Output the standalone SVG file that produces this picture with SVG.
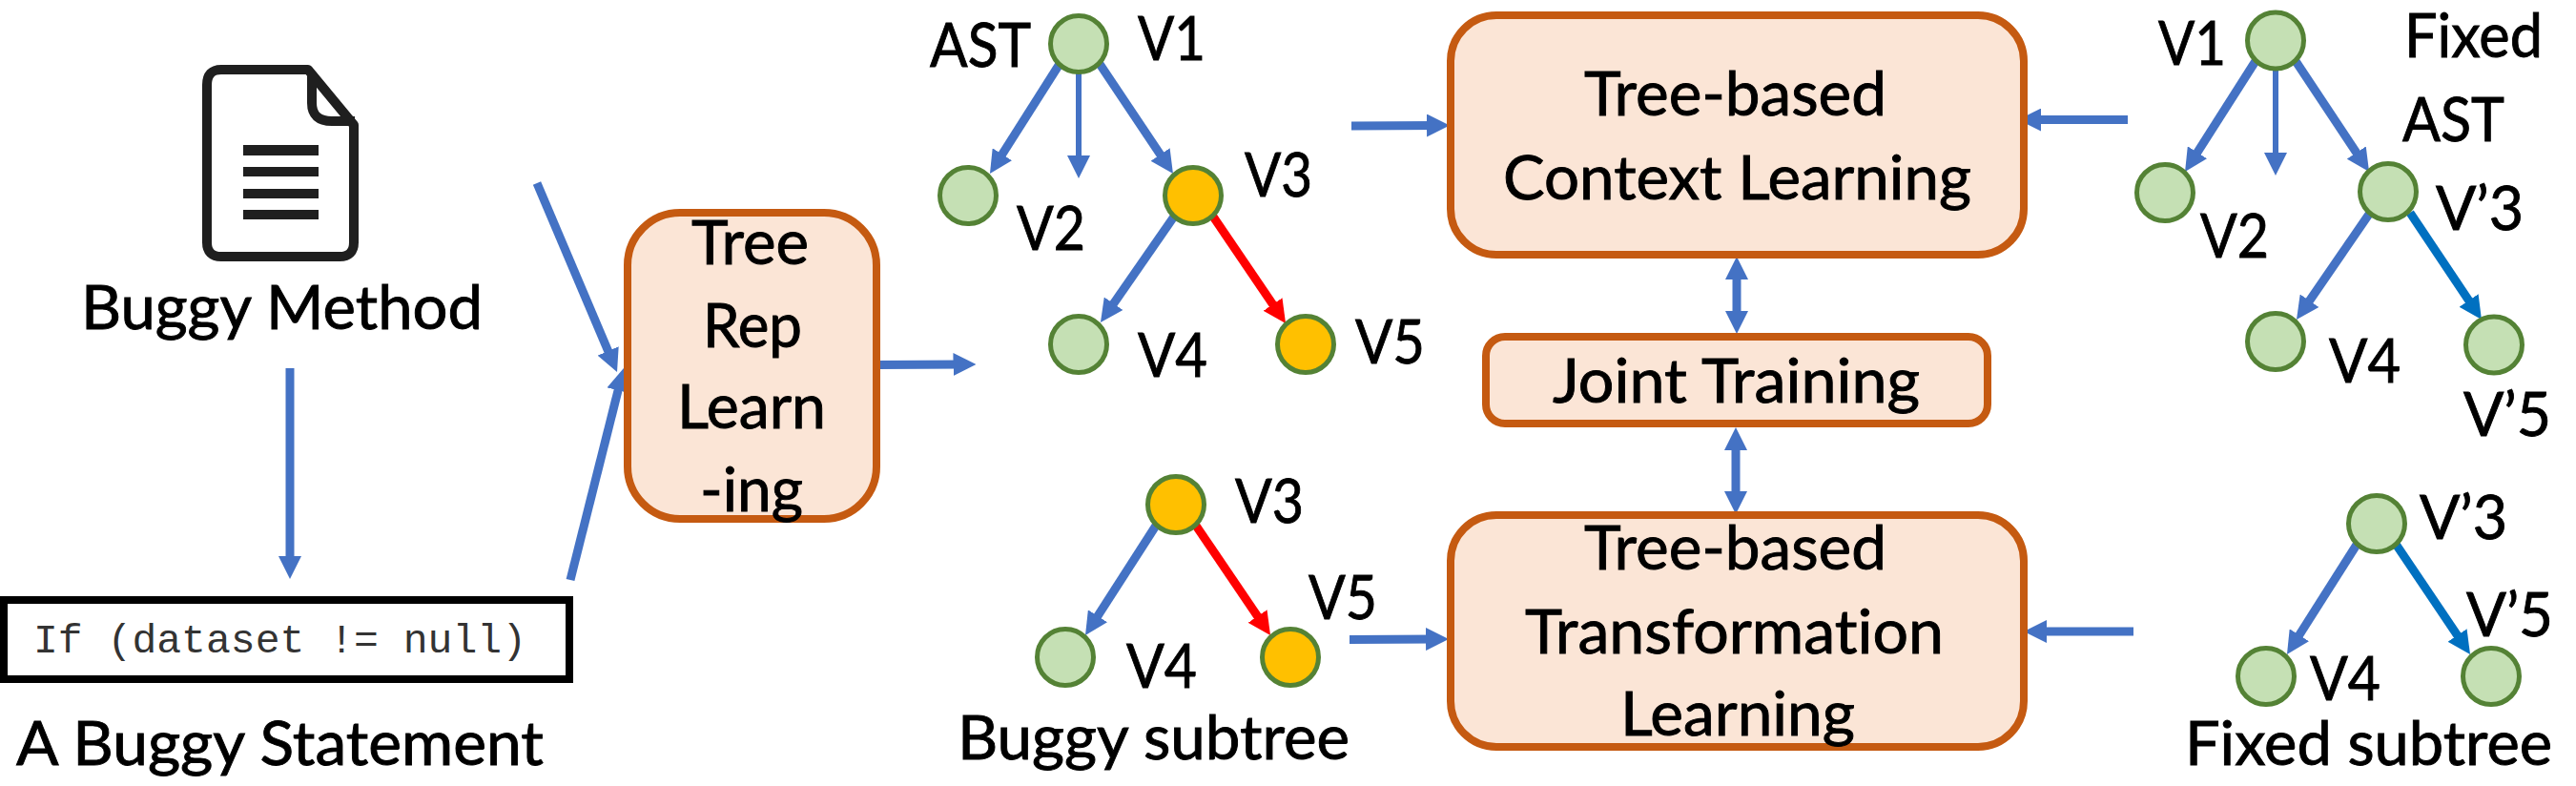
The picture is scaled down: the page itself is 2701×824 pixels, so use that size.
<svg xmlns="http://www.w3.org/2000/svg" width="2701" height="824" viewBox="0 0 2701 824">
<style>
.t{font-family:"Lato","Open Sans","Liberation Sans",sans-serif;font-size:64px;fill:#000;stroke:#000;stroke-width:.9;font-variant-ligatures:none}
.m{font-family:"Liberation Mono",monospace;font-size:43px;fill:#333}
.box{fill:#FBE5D6;stroke:#C55A11;stroke-width:8}
.g{fill:#C5E0B4;stroke:#548235;stroke-width:5}
.o{fill:#FFC000;stroke:#548235;stroke-width:5}
.a{fill:none;stroke:#4472C4;stroke-width:9;marker-end:url(#hb)}
.thin{stroke-width:6}
.r{fill:none;stroke:#FF0000;stroke-width:9;marker-end:url(#hr)}
.c{fill:none;stroke:#0070C0;stroke-width:9;marker-end:url(#hc)}
.d{fill:none;stroke:#4472C4;stroke-width:9;marker-start:url(#hb);marker-end:url(#hb)}
</style>
<defs>
<marker id="hb" markerUnits="userSpaceOnUse" markerWidth="24" markerHeight="24" viewBox="0 0 24 24" refX="12" refY="12" orient="auto-start-reverse"><path d="M0 0L24 12L0 24z" fill="#4472C4"/></marker>
<marker id="hr" markerUnits="userSpaceOnUse" markerWidth="24" markerHeight="24" viewBox="0 0 24 24" refX="12" refY="12" orient="auto"><path d="M0 0L24 12L0 24z" fill="#FF0000"/></marker>
<marker id="hc" markerUnits="userSpaceOnUse" markerWidth="24" markerHeight="24" viewBox="0 0 24 24" refX="12" refY="12" orient="auto"><path d="M0 0L24 12L0 24z" fill="#0070C0"/></marker>
</defs>
<rect width="2701" height="824" fill="#fff"/>
<g id="connectors">
<path class="a" d="M563 192L642.3 379"/>
<path class="a" d="M598 608L651 397.6"/>
<path class="a" d="M304 386V595"/>
<path class="a" d="M920 382.5L1011.5 382"/>
<path class="a" d="M1111 67L1044.4 171.9"/>
<path class="a thin" d="M1131 77V175"/>
<path class="a" d="M1153 67L1223.3 172"/>
<path class="a" d="M1231 227L1160.8 328.1"/>
<path class="r" d="M1272 227L1341.3 329"/>
<path class="a" d="M1212 551L1144.5 655.9"/>
<path class="r" d="M1254 551L1325.3 656"/>
<path class="a" d="M1417 132L1508 131.5"/>
<path class="a" d="M1415 670.5L1507 670"/>
<path class="d" d="M1821 281V338"/>
<path class="d" d="M1820 460V527"/>
<path class="a" d="M2231 125.6H2128"/>
<path class="a" d="M2237 662H2134"/>
<path class="a" d="M2365 64L2297.5 169.9"/>
<path class="a thin" d="M2386 74V172"/>
<path class="a" d="M2407 64L2477.4 170"/>
<path class="a" d="M2485 223L2414.8 325.1"/>
<path class="c" d="M2527 223L2595.3 325"/>
<path class="a" d="M2471 571L2404.4 675.9"/>
<path class="c" d="M2512.5 571L2583.3 676"/>
</g>
<g id="buggy-method">
<path d="M238 73H323L371 131V254Q371 269 356 269H232Q217 269 217 254V89Q217 73 232 73z" fill="#fff" stroke="#1f1f1f" stroke-width="10" stroke-linejoin="round"/>
<path d="M327 76V108Q327 127 348 127H372" fill="none" stroke="#1f1f1f" stroke-width="10"/>
<rect x="255" y="152" width="79" height="11" fill="#1f1f1f"/>
<rect x="255" y="175" width="79" height="10" fill="#1f1f1f"/>
<rect x="255" y="198" width="79" height="10" fill="#1f1f1f"/>
<rect x="255" y="220" width="79" height="10" fill="#1f1f1f"/>
<text class="t" x="85" y="345" textLength="421" lengthAdjust="spacingAndGlyphs">Buggy Method</text>
</g>
<g id="buggy-statement">
<rect x="4" y="629" width="593" height="83" fill="#fff" stroke="#000" stroke-width="8"/>
<text class="m" x="35" y="684" textLength="517" lengthAdjust="spacingAndGlyphs">If (dataset != null)</text>
<text class="t" x="17" y="802" textLength="553" lengthAdjust="spacingAndGlyphs">A Buggy Statement</text>
</g>
<g id="tree-rep-learning">
<rect class="box" x="658" y="223" width="261" height="321" rx="55" ry="55"/>
<text class="t" x="725" y="277" textLength="123" lengthAdjust="spacingAndGlyphs">Tree</text>
<text class="t" x="737" y="364" textLength="104" lengthAdjust="spacingAndGlyphs">Rep</text>
<text class="t" x="710" y="449" textLength="156" lengthAdjust="spacingAndGlyphs">Learn</text>
<text class="t" x="734" y="536" textLength="108" lengthAdjust="spacingAndGlyphs">-ing</text>
</g>
<g id="ast">
<text class="t" x="975" y="70" textLength="106" lengthAdjust="spacingAndGlyphs">AST</text>
<circle class="g" cx="1131" cy="46" r="29.5"/>
<text class="t" x="1193" y="63" textLength="71" lengthAdjust="spacingAndGlyphs">V1</text>
<circle class="g" cx="1015" cy="205" r="29.5"/>
<text class="t" x="1066" y="262" textLength="72" lengthAdjust="spacingAndGlyphs">V2</text>
<circle class="o" cx="1251" cy="205" r="29.5"/>
<text class="t" x="1305" y="206" textLength="71" lengthAdjust="spacingAndGlyphs">V3</text>
<circle class="g" cx="1131" cy="361" r="29.5"/>
<text class="t" x="1193" y="395" textLength="73" lengthAdjust="spacingAndGlyphs">V4</text>
<circle class="o" cx="1369" cy="361" r="29.5"/>
<text class="t" x="1421" y="381" textLength="73" lengthAdjust="spacingAndGlyphs">V5</text>
</g>
<g id="buggy-subtree">
<circle class="o" cx="1233" cy="529" r="29.5"/>
<text class="t" x="1295" y="548" textLength="72" lengthAdjust="spacingAndGlyphs">V3</text>
<circle class="g" cx="1117" cy="689" r="29.5"/>
<text class="t" x="1181" y="721" textLength="74" lengthAdjust="spacingAndGlyphs">V4</text>
<circle class="o" cx="1353" cy="689" r="29.5"/>
<text class="t" x="1372" y="649" textLength="72" lengthAdjust="spacingAndGlyphs">V5</text>
<text class="t" x="1004" y="796" textLength="411" lengthAdjust="spacingAndGlyphs">Buggy subtree</text>
</g>
<g id="context-learning">
<rect class="box" x="1521" y="16" width="601" height="251" rx="48" ry="48"/>
<text class="t" x="1661" y="121" textLength="317" lengthAdjust="spacingAndGlyphs">Tree-based</text>
<text class="t" x="1576" y="209" textLength="491" lengthAdjust="spacingAndGlyphs">Context Learning</text>
</g>
<g id="joint-training">
<rect class="box" x="1558" y="353" width="526" height="91" rx="20" ry="20"/>
<text class="t" x="1628" y="422" textLength="385" lengthAdjust="spacingAndGlyphs">Joint Training</text>
</g>
<g id="transformation-learning">
<rect class="box" x="1521" y="540" width="601" height="243" rx="48" ry="48"/>
<text class="t" x="1661" y="597" textLength="317" lengthAdjust="spacingAndGlyphs">Tree-based</text>
<text class="t" x="1599" y="685" textLength="439" lengthAdjust="spacingAndGlyphs">Transformation</text>
<text class="t" x="1699" y="771" textLength="246" lengthAdjust="spacingAndGlyphs">Learning</text>
</g>
<g id="fixed-ast">
<circle class="g" cx="2386" cy="42.5" r="29.5"/>
<text class="t" x="2263" y="68" textLength="71" lengthAdjust="spacingAndGlyphs">V1</text>
<text class="t" x="2521" y="60" textLength="145" lengthAdjust="spacingAndGlyphs">Fixed</text>
<text class="t" x="2519" y="148" textLength="107" lengthAdjust="spacingAndGlyphs">AST</text>
<circle class="g" cx="2270" cy="202" r="29.5"/>
<text class="t" x="2307" y="270" textLength="72" lengthAdjust="spacingAndGlyphs">V2</text>
<circle class="g" cx="2504" cy="201" r="29.5"/>
<text class="t" x="2554" y="241" textLength="92" lengthAdjust="spacingAndGlyphs">V’3</text>
<circle class="g" cx="2386" cy="358" r="29.5"/>
<text class="t" x="2442" y="401" textLength="75" lengthAdjust="spacingAndGlyphs">V4</text>
<circle class="g" cx="2615" cy="361.5" r="29.5"/>
<text class="t" x="2583" y="457" textLength="92" lengthAdjust="spacingAndGlyphs">V’5</text>
</g>
<g id="fixed-subtree">
<circle class="g" cx="2492" cy="549" r="29.5"/>
<text class="t" x="2537" y="565" textLength="92" lengthAdjust="spacingAndGlyphs">V’3</text>
<text class="t" x="2586" y="667" textLength="91" lengthAdjust="spacingAndGlyphs">V’5</text>
<circle class="g" cx="2376" cy="709" r="29.5"/>
<text class="t" x="2422" y="734" textLength="74" lengthAdjust="spacingAndGlyphs">V4</text>
<circle class="g" cx="2612" cy="709" r="29.5"/>
<text class="t" x="2291" y="802" textLength="385" lengthAdjust="spacingAndGlyphs">Fixed subtree</text>
</g>
</svg>
